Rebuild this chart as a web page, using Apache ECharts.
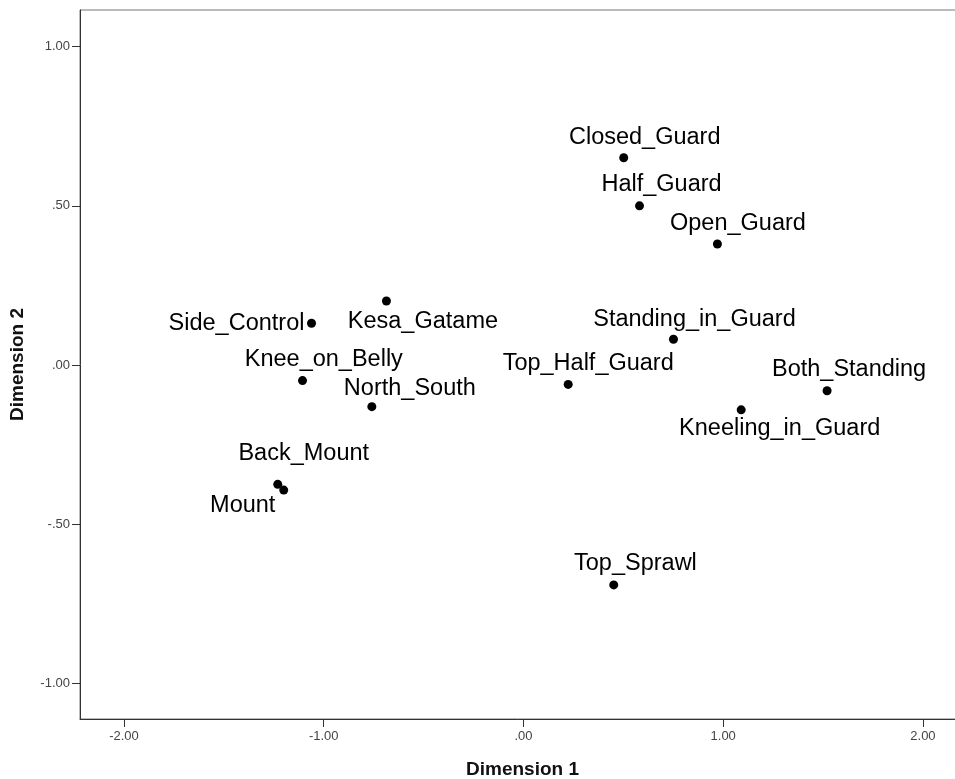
<!DOCTYPE html>
<html>
<head>
<meta charset="utf-8">
<script src="https://cdn.jsdelivr.net/npm/echarts@6/dist/echarts.min.js"></script>
<style>
html,body{margin:0;padding:0;background:#fff;overflow:hidden;}
#chart{width:955px;height:779px;}
</style>
</head>
<body>
<div id="chart"></div>
<script>
// ---- data ----
const names = ["Closed_Guard","Half_Guard","Open_Guard","Standing_in_Guard","Top_Half_Guard","Both_Standing","Kneeling_in_Guard","Top_Sprawl","Side_Control","Kesa_Gatame","Knee_on_Belly","North_South","Back_Mount","Mount"];
const dim1 = [0.502, 0.581, 0.971, 0.751, 0.224, 1.520, 1.090, 0.452, -1.061, -0.686, -1.106, -0.759, -1.230, -1.200];
const dim2 = [0.651, 0.500, 0.380, 0.081, -0.061, -0.081, -0.141, -0.691, 0.131, 0.201, -0.049, -0.131, -0.375, -0.393];
const xTicks = [-2, -1, 0, 1, 2];
const yTicks = [-1, -0.5, 0, 0.5, 1];

// ---- label placement (pixel offsets of label centre from point) ----
const labelOffsets = {
  "Closed_Guard":[21,-20], "Half_Guard":[22,-21], "Open_Guard":[20.5,-21],
  "Standing_in_Guard":[21,-20], "Top_Half_Guard":[20,-21], "Both_Standing":[22,-21],
  "Kneeling_in_Guard":[38.5,19], "Top_Sprawl":[21.7,-21], "Side_Control":[-75,0],
  "Kesa_Gatame":[36.5,20], "Knee_on_Belly":[21.3,-21.5], "North_South":[38,-18.4],
  "Back_Mount":[26,-31], "Mount":[-41,15.7]
};

function fmt(v){
  let s = Math.abs(v).toFixed(2);
  if (s.startsWith("0")) s = s.slice(1);
  return (v < 0 ? "-" : "") + s;
}

const pts = names.map((n, i) => ({
  name: n,
  value: [dim1[i], dim2[i]],
  label: { offset: labelOffsets[n] }
}));

const chart = echarts.init(document.getElementById('chart'), null, {renderer:'canvas'});
const FONT = "'Liberation Sans', Arial, sans-serif";
chart.setOption({
  animation: false,
  backgroundColor: '#fff',
  grid: { left: 80, top: 10, right: -10, bottom: 60, outerBoundsMode: 'none', containLabel: false,
          show: true, borderColor: '#777', borderWidth: 1, backgroundColor: 'transparent' },
  xAxis: {
    type: 'value', min: -2.22, max: 2.2105,
    name: 'Dimension 1', nameLocation: 'middle', nameGap: 41,
    nameTextStyle: { fontFamily: FONT, fontSize: 19, fontWeight: 'bold', color: '#111' },
    axisLine: { show: true, onZero: false, lineStyle: { color: '#333', width: 1 } },
    axisTick: { show: true, length: 8, lineStyle: { color: '#333' }, customValues: xTicks },
    axisLabel: { margin: 11, fontFamily: FONT, fontSize: 13, color: '#444', customValues: xTicks, formatter: fmt },
    splitLine: { show: false }
  },
  yAxis: {
    type: 'value', min: -1.1122, max: 1.1153,
    name: 'Dimension 2', nameLocation: 'middle', nameGap: 53, nameRotate: 90,
    nameTextStyle: { fontFamily: FONT, fontSize: 19, fontWeight: 'bold', color: '#111' },
    axisLine: { show: true, onZero: false, lineStyle: { color: '#333', width: 1 } },
    axisTick: { show: true, length: 8, lineStyle: { color: '#333' }, customValues: yTicks },
    axisLabel: { margin: 10, fontFamily: FONT, fontSize: 13, color: '#444', customValues: yTicks, formatter: fmt },
    splitLine: { show: false }
  },
  series: [{
    type: 'scatter',
    symbol: 'circle',
    symbolSize: 9,
    itemStyle: { color: '#000', opacity: 1 },
    data: pts,
    label: {
      show: true, position: 'inside', formatter: '{b}', opacity: 1,
      fontFamily: FONT, fontSize: 23.5, color: '#000', align: 'center', verticalAlign: 'middle'
    },
    emphasis: { disabled: true }
  }]
});
</script>
</body>
</html>
